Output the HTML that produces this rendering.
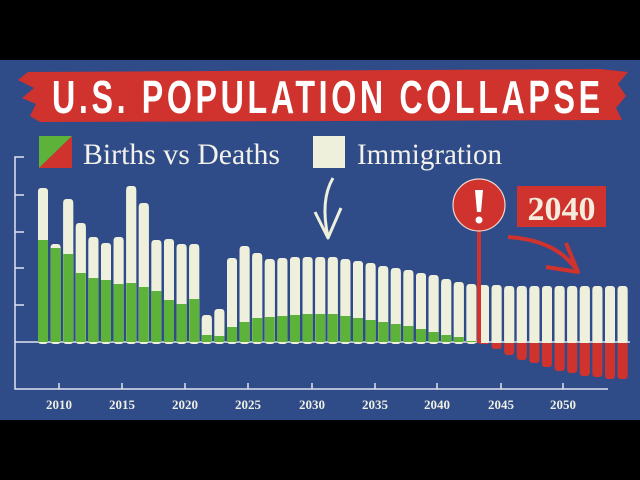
<!DOCTYPE html>
<html><head><meta charset="utf-8"><style>
html,body{margin:0;padding:0;background:#000;}
svg{display:block;}
</style></head><body>
<svg width="640" height="480" viewBox="0 0 640 480" xmlns="http://www.w3.org/2000/svg">
<rect x="0" y="0" width="640" height="480" fill="#000"/>
<rect x="0" y="60" width="640" height="360" fill="#2f4b88"/>
<!-- banner -->
<path d="M28 72 L600 69 L628 72 L618 84 L626 96 L616 108 L622 120 L40 122 L30 116 L36 104 L22 98 L34 88 L18 80 Z" fill="#d0322e"/>
<g transform="scale(0.7,1)">
<text x="74.3" y="113" font-family="Liberation Sans, sans-serif" font-weight="bold" font-size="46" fill="#fff" textLength="783" lengthAdjust="spacing">U.S. POPULATION COLLAPSE</text>
</g>
<!-- legend -->
<polygon points="39,136 72,136 39,168" fill="#5db33a"/>
<polygon points="72,136 72,168 39,168" fill="#d0322e"/>
<text x="83" y="164" font-family="Liberation Serif, serif" font-size="30" fill="#f2f2ea" textLength="197" lengthAdjust="spacingAndGlyphs">Births vs Deaths</text>
<rect x="313" y="136" width="32" height="32" fill="#eef0dc"/>
<text x="357" y="164" font-family="Liberation Serif, serif" font-size="30" fill="#f2f2ea" textLength="145" lengthAdjust="spacingAndGlyphs">Immigration</text>
<!-- axes -->
<g stroke="#dfe4ef" stroke-width="1.5" fill="none">
<path d="M24 157 L15 157 L15 389 L608 389"/>
<path d="M15 195 L24 195 M15 232 L24 232 M15 268 L24 268 M15 305 L24 305"/>
<path d="M15 342 L630 342"/>
<path d="M59 389 V383 M122 389 V383 M185 389 V383 M248 389 V383 M312 389 V383 M375 389 V383 M437 389 V383 M501 389 V383 M563 389 V383"/>
</g>
<g font-family="Liberation Serif, serif" font-weight="bold" font-size="13" fill="#eef0e4" text-anchor="middle">
<text x="59" y="409">2010</text><text x="122" y="409">2015</text><text x="185" y="409">2020</text><text x="248" y="409">2025</text><text x="312" y="409">2030</text><text x="375" y="409">2035</text><text x="437" y="409">2040</text><text x="501" y="409">2045</text><text x="563" y="409">2050</text>
</g>
<g id="bars"></g>
<!-- pole and warning -->
<rect x="477" y="225" width="4" height="118" fill="#d0322e"/>
<circle cx="479" cy="205" r="26" fill="#d0322e" stroke="#f0d8d0" stroke-width="1.2"/>
<path d="M475 190 L483 190 L481 212 L477 212 Z" fill="#fff"/>
<circle cx="479" cy="220" r="3.5" fill="#fff"/>
<rect x="517" y="186" width="89" height="41" fill="#d0322e"/>
<text x="561.5" y="220" font-family="Liberation Serif, serif" font-weight="bold" font-size="34" fill="#f4ecdc" text-anchor="middle">2040</text>
<path d="M508 237 Q555 240 575 268" stroke="#d0322e" stroke-width="4" fill="none"/>
<path d="M546 267 L578 272 L566 243" stroke="#d0322e" stroke-width="4" fill="none" stroke-linejoin="round"/>
<!-- white arrow -->
<path d="M333 178 Q320 200 328 237" stroke="#eef0dc" stroke-width="3" fill="none"/>
<path d="M315 212 L328 238 L341 208" stroke="#eef0dc" stroke-width="3" fill="none" stroke-linejoin="round"/>
</svg>
<script>
var tops=[188,244,199,223,237,243,237,186,203,240,239,244,244,315,309,258,246,253,259,258,257,257,257,257,259,261,263,266,268,270,273,275,279,282,284,285,285,286,286,286,286,286,286,286,286,286,286];
var greens=[240,248,254,273,278,280,284,283,287,291,300,304,299,335,336,327,322,318,317,316,315,314,314,314,316,318,320,322,324,326,329,332,335,337,341];
var reds=[344,349,355,360,363,367,371,373,376,377,379,379];
var ns="http://www.w3.org/2000/svg",g=document.getElementById("bars");
function r(x,y,w,h,f,rx){var e=document.createElementNS(ns,"rect");e.setAttribute("x",x);e.setAttribute("y",y);e.setAttribute("width",w);e.setAttribute("height",h);e.setAttribute("fill",f);if(rx)e.setAttribute("rx",rx);g.appendChild(e);}
for(var i=0;i<47;i++){var x=38+12.6*i;var t=tops[i];
r(x,t,10,342-t+2,"#eef0dc",3);r(x,t+4,10,342-t-4,"#eef0dc");
if(i<greens.length){r(x,greens[i],10,342-greens[i],"#5db33a");}
if(i>=35){var b=reds[i-35];r(x,343,10,b-343,"#d0322e",3);r(x,343,10,Math.max(0,b-347),"#d0322e");}}
</script>
</body></html>
